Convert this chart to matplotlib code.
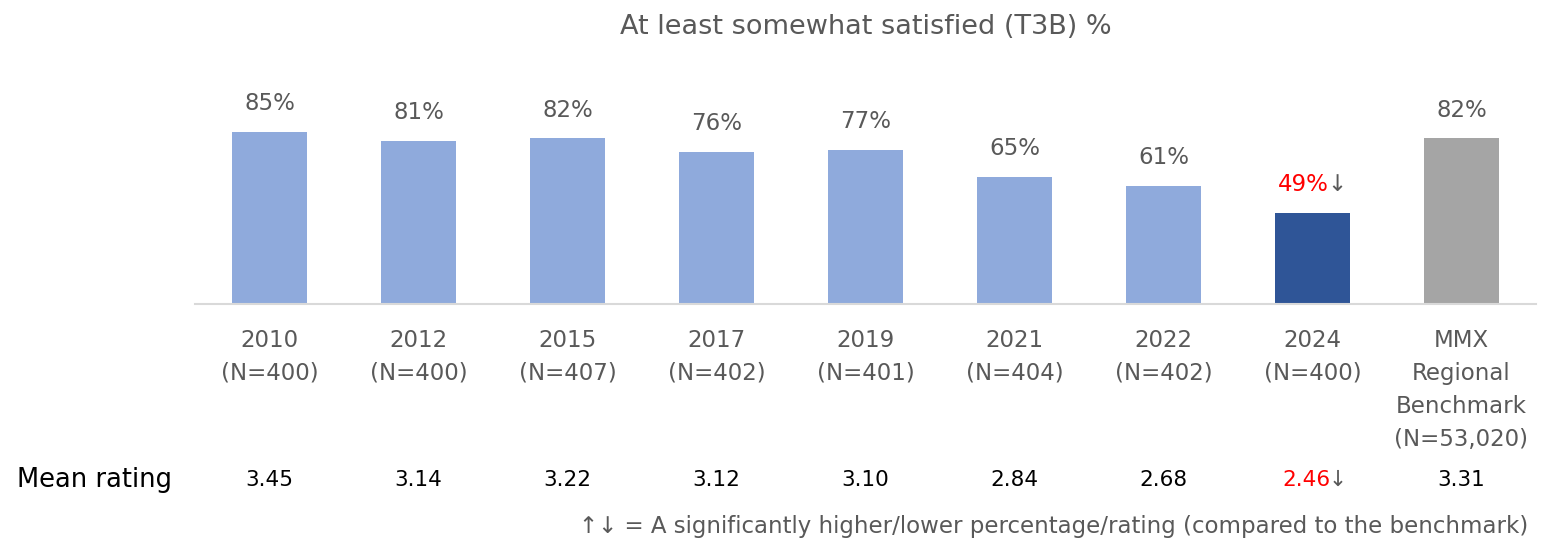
import matplotlib.pyplot as plt
import matplotlib.transforms as mtransforms

# Satisfaction by survey wave
categories = ["2010\n(N=400)", "2012\n(N=400)", "2015\n(N=407)", "2017\n(N=402)",
              "2019\n(N=401)", "2021\n(N=404)", "2022\n(N=402)", "2024\n(N=400)",
              "MMX\nRegional\nBenchmark\n(N=53,020)"]
t3b_pct = [85, 81, 82, 76, 77, 65, 61, 49, 82]
mean_rating = [3.45, 3.14, 3.22, 3.12, 3.10, 2.84, 2.68, 2.46, 3.31]
sig_lower = [False, False, False, False, False, False, False, True, False]

bar_colors = ["#8FAADC"] * 7 + ["#2F5597", "#A5A5A5"]
grey_txt = "#595959"
red_txt = "#FF0000"

plt.rcParams['font.family'] = ['DejaVu Sans']

fig = plt.figure(figsize=(15.6, 5.44), dpi=100)
ax = fig.add_axes([0.125, 0.441, 0.8596, 0.379])

x = list(range(len(categories)))
bars = ax.bar(x, t3b_pct, width=0.5, color=bar_colors, zorder=2)

ax.set_xlim(-0.5, len(categories) - 0.5)
ax.set_ylim(8.4, 100)
ax.set_yticks([])
for side in ["left", "right", "top"]:
    ax.spines[side].set_visible(False)
ax.spines["bottom"].set_color("#D9D9D9")
ax.spines["bottom"].set_linewidth(1.5)

ax.set_xticks(x)
ax.set_xticklabels(categories, fontsize=16.5, color=grey_txt, linespacing=1.55, va="top")
ax.tick_params(axis="x", length=0, pad=18)

# Percent labels above bars
for xi, v, low in zip(x, t3b_pct, sig_lower):
    if low:
        t = ax.annotate(f"{v}%", xy=(xi - 0.06, v), xytext=(0, 12), textcoords="offset points",
                        ha="center", va="bottom", fontsize=16.5, color=red_txt)
        ax.annotate("\u2193", xy=(1, 0), xycoords=t, xytext=(-1.5, 0), textcoords="offset points",
                    ha="left", va="bottom", fontsize=16.5, color=grey_txt)
    else:
        ax.annotate(f"{v}%", xy=(xi, v), xytext=(0, 12), textcoords="offset points",
                    ha="center", va="bottom", fontsize=16.5, color=grey_txt)

ax.set_title("At least somewhat satisfied (T3B) %", fontsize=19.5, color=grey_txt, pad=46)

# Mean rating row
row_y = 1 - 480 / 544
trans = mtransforms.blended_transform_factory(ax.transData, fig.transFigure)
fig.text(17 / 1560, row_y, "Mean rating", ha="left", va="center",
         fontsize=18.5, color="black")
for xi, m, low in zip(x, mean_rating, sig_lower):
    if low:
        t = ax.text(xi - 0.04, row_y, f"{m:.2f}", transform=trans,
                    ha="center", va="center", fontsize=15.5, color=red_txt)
        ax.annotate("\u2193", xy=(1, 0), xycoords=t, xytext=(-1.5, 0), textcoords="offset points",
                    ha="left", va="bottom", fontsize=15.5, color=grey_txt)
    else:
        ax.text(xi, row_y, f"{m:.2f}", transform=trans,
                ha="center", va="center", fontsize=15.5, color="black")

fig.text(1528 / 1560, 1 - 527 / 544,
         "\u2191\u2193 = A significantly higher/lower percentage/rating (compared to the benchmark)",
         ha="right", va="center", fontsize=16.5, color=grey_txt)

fig.savefig("out.png", dpi=100, facecolor="white")
